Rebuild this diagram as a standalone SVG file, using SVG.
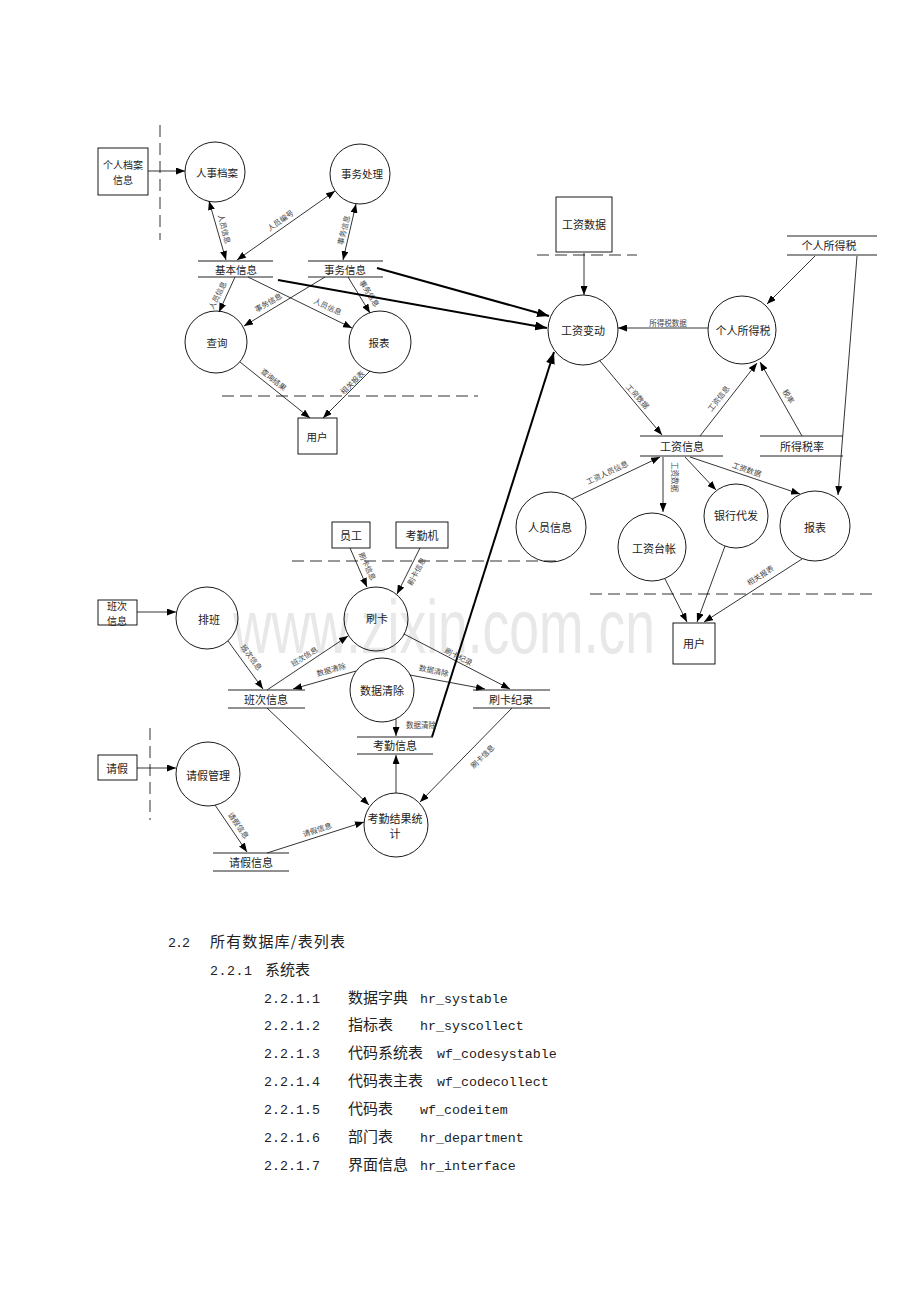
<svg xmlns="http://www.w3.org/2000/svg" width="920" height="1302" viewBox="0 0 920 1302">
<style>
.ln{stroke:#000;stroke-width:0.8;fill:none}
.ar{marker-end:url(#ah)}
.bi{marker-start:url(#ah);marker-end:url(#ah)}
.hv{stroke:#000;stroke-width:2;fill:none;marker-end:url(#ahb)}
.nd{fill:none;stroke:#000;stroke-width:0.9}
.dash{stroke:#333;stroke-width:1;stroke-dasharray:12 6;fill:none}
.stt{stroke:#666;stroke-width:1.3}
.stb{stroke:#222;stroke-width:1}
.t{font-family:"Noto Sans CJK SC","Liberation Serif",sans-serif;font-size:11px;fill:#222;text-anchor:middle;dominant-baseline:central}
.s{font-size:10.5px}
.sm{font-size:10px}
.lb{font-family:"Noto Sans CJK SC",sans-serif;font-size:7.5px;fill:#444;text-anchor:middle;dominant-baseline:central}
.cj{font-family:"Noto Sans CJK SC",sans-serif;font-size:15px;fill:#222}
.mo{font-family:"Liberation Mono",monospace;font-size:13.3px;fill:#222}
.wm{font-family:"Liberation Sans",sans-serif;font-size:54px;fill:#e8e8e8}
</style>
<defs>
<marker id="ah" markerWidth="9" markerHeight="7" refX="9" refY="3.5" orient="auto-start-reverse" markerUnits="userSpaceOnUse"><path d="M0,0 L9,3.5 L0,7 z" fill="#000"/></marker>
<marker id="ahb" markerWidth="12" markerHeight="9" refX="12" refY="4.5" orient="auto" markerUnits="userSpaceOnUse"><path d="M0,0 L12,4.5 L0,9 z" fill="#000"/></marker>
</defs>
<rect width="920" height="1302" fill="#fff"/>
<text class="wm" x="233" y="0" transform="translate(0,653) scale(1,1.42)" textLength="422" lengthAdjust="spacingAndGlyphs">www.zixin.com.cn</text>

<g id="boundaries">
<line class="dash" x1="160" y1="125" x2="160" y2="240"/>
<line class="dash" x1="222" y1="396" x2="478" y2="396"/>
<line class="dash" x1="537" y1="255" x2="637" y2="255"/>
<line class="dash" x1="590" y1="594" x2="875" y2="594"/>
<line class="dash" x1="292" y1="561" x2="558" y2="561"/>
<line class="dash" x1="150" y1="728" x2="150" y2="820"/>
</g>

<g id="connectors">
<line class="ln ar" x1="148" y1="171" x2="185" y2="171"/>
<line class="ln bi" x1="209" y1="201" x2="226" y2="260"/>
<text class="lb" x="225" y="229" transform="rotate(76 225 229)">人员信息</text>
<line class="ln bi" x1="335" y1="191" x2="237" y2="260"/>
<text class="lb" x="280" y="220" transform="rotate(-35 280 220)">人员编号</text>
<line class="ln bi" x1="356" y1="204" x2="343" y2="260"/>
<text class="lb" x="343" y="230" transform="rotate(-76 343 230)">事务信息</text>
<line class="ln ar" x1="235" y1="277" x2="219" y2="312"/>
<text class="lb" x="217" y="295" transform="rotate(-63 217 295)">人员信息</text>
<line class="ln ar" x1="325" y1="277" x2="244" y2="326"/>
<text class="lb" x="268" y="302" transform="rotate(-30 268 302)">事务信息</text>
<line class="ln ar" x1="248" y1="277" x2="352" y2="328"/>
<text class="lb" x="328" y="306" transform="rotate(25 328 306)">人员信息</text>
<line class="ln ar" x1="348" y1="277" x2="370" y2="313"/>
<text class="lb" x="370" y="293" transform="rotate(58 370 293)">事务信息</text>
<line class="ln ar" x1="240" y1="362" x2="310" y2="418"/>
<text class="lb" x="274" y="379" transform="rotate(39 274 379)">查询结果</text>
<line class="ln ar" x1="370" y1="371" x2="323" y2="418"/>
<text class="lb" x="352" y="382" transform="rotate(-45 352 382)">相关报表</text>

<line class="hv" x1="278" y1="280" x2="547" y2="328"/>
<line class="hv" x1="377" y1="268" x2="549" y2="316"/>
<line class="hv" x1="432" y1="737" x2="554" y2="352"/>

<line class="ln ar" x1="584" y1="253" x2="584" y2="295"/>
<line class="ln ar" x1="815" y1="256" x2="767" y2="304"/>
<line class="ln ar" x1="857" y1="256" x2="838" y2="495"/>
<line class="ln ar" x1="708" y1="328" x2="618" y2="328"/>
<text class="lb" x="668" y="322">所得税数据</text>
<line class="ln ar" x1="600" y1="361" x2="662" y2="435"/>
<text class="lb" x="638" y="396" transform="rotate(48 638 396)">工资数据</text>
<line class="ln ar" x1="700" y1="436" x2="757" y2="363"/>
<text class="lb" x="718" y="398" transform="rotate(-52 718 398)">工资信息</text>
<line class="ln ar" x1="802" y1="436" x2="760" y2="362"/>
<text class="lb" x="789" y="396" transform="rotate(60 789 396)">税率</text>
<line class="ln ar" x1="572" y1="499" x2="660" y2="457"/>
<text class="lb" x="607" y="472" transform="rotate(-25 607 472)">工资人员信息</text>
<line class="ln ar" x1="663" y1="457" x2="663" y2="512"/>
<text class="lb" x="675" y="477" transform="rotate(90 675 477)">工资数据</text>
<line class="ln ar" x1="685" y1="457" x2="716" y2="490"/>
<line class="ln ar" x1="690" y1="457" x2="800" y2="494"/>
<text class="lb" x="747" y="469" transform="rotate(19 747 469)">工资数据</text>
<line class="ln ar" x1="665" y1="579" x2="687" y2="622"/>
<line class="ln ar" x1="725" y1="546" x2="697" y2="622"/>
<line class="ln ar" x1="802" y1="559" x2="704" y2="622"/>
<text class="lb" x="760" y="575" transform="rotate(-33 760 575)">相关报表</text>

<line class="ln ar" x1="350" y1="548" x2="367" y2="587"/>
<text class="lb" x="368" y="566" transform="rotate(65 368 566)">刷卡信息</text>
<line class="ln ar" x1="420" y1="548" x2="397" y2="594"/>
<text class="lb" x="416" y="571" transform="rotate(-62 416 571)">刷卡信息</text>
<line class="ln ar" x1="137" y1="612" x2="176" y2="612"/>
<line class="ln ar" x1="228" y1="641" x2="263" y2="689"/>
<text class="lb" x="252" y="657" transform="rotate(54 252 657)">班次信息</text>
<line class="ln ar" x1="267" y1="690" x2="348" y2="636"/>
<text class="lb" x="304" y="656" transform="rotate(-32 304 656)">班次信息</text>
<line class="ln ar" x1="356" y1="671" x2="293" y2="689"/>
<text class="lb" x="331" y="669" transform="rotate(-16 331 669)">数据清除</text>
<line class="ln ar" x1="404" y1="634" x2="510" y2="689"/>
<text class="lb" x="459" y="656" transform="rotate(27 459 656)">刷卡纪录</text>
<line class="ln ar" x1="410" y1="675" x2="485" y2="689"/>
<text class="lb" x="434" y="670" transform="rotate(12 434 670)">数据清除</text>
<line class="ln ar" x1="396" y1="719" x2="396" y2="736"/>
<text class="lb" x="421" y="724">数据清除</text>
<line class="ln ar" x1="396" y1="793" x2="396" y2="755"/>
<line class="ln ar" x1="267" y1="708" x2="369" y2="805"/>
<line class="ln ar" x1="512" y1="708" x2="420" y2="802"/>
<text class="lb" x="482" y="756" transform="rotate(-45 482 756)">刷卡信息</text>
<line class="ln ar" x1="137" y1="768" x2="176" y2="768"/>
<line class="ln ar" x1="215" y1="805" x2="247" y2="852"/>
<text class="lb" x="239" y="825" transform="rotate(55 239 825)">请假信息</text>
<line class="ln ar" x1="267" y1="853" x2="364" y2="822"/>
<text class="lb" x="317" y="829" transform="rotate(-18 317 829)">请假信息</text>
</g>

<g id="n-grda-box"><rect class="nd" x="98" y="148" width="50" height="47"/><text class="t sm" x="123" y="164">个人档案</text><text class="t sm" x="123" y="179">信息</text></g>
<g id="n-rsda"><circle class="nd" cx="215" cy="172" r="30"/><text class="t s" x="217" y="172">人事档案</text></g>
<g id="n-swcl"><circle class="nd" cx="360" cy="174" r="30"/><text class="t s" x="362" y="173">事务处理</text></g>
<g id="s-jbxx"><line class="stt" x1="198" y1="261" x2="273" y2="261"/><line class="stb" x1="198" y1="277" x2="273" y2="277"/><text class="t s" x="236" y="269">基本信息</text></g>
<g id="s-swxx"><line class="stt" x1="308" y1="261" x2="383" y2="261"/><line class="stb" x1="308" y1="277" x2="383" y2="277"/><text class="t s" x="345" y="269">事务信息</text></g>
<g id="n-cx"><circle class="nd" cx="216" cy="342" r="31"/><text class="t s" x="217" y="342">查询</text></g>
<g id="n-bb1"><circle class="nd" cx="380" cy="342" r="31"/><text class="t s" x="379" y="342">报表</text></g>
<g id="n-yh1"><rect class="nd" x="298" y="418" width="39" height="36"/><text class="t s" x="317" y="436">用户</text></g>

<g id="n-gzsj"><rect class="nd" x="556" y="197" width="56" height="55"/><text class="t" x="584" y="224">工资数据</text></g>
<g id="s-grsds"><line class="stb" x1="787" y1="236" x2="877" y2="236"/><line class="stb" x1="787" y1="255" x2="877" y2="255"/><text class="t" x="829" y="245">个人所得税</text></g>
<g id="n-gzbd"><circle class="nd" cx="583" cy="330" r="35"/><text class="t" x="583" y="330">工资变动</text></g>
<g id="n-grsds"><circle class="nd" cx="742" cy="330" r="34"/><text class="t" x="743" y="330">个人所得税</text></g>
<g id="s-gzxx"><line class="stb" x1="640" y1="436" x2="723" y2="436"/><line class="stb" x1="640" y1="456" x2="723" y2="456"/><text class="t" x="682" y="446">工资信息</text></g>
<g id="s-sdsl"><line class="stb" x1="760" y1="436" x2="843" y2="436"/><line class="stb" x1="760" y1="456" x2="843" y2="456"/><text class="t" x="802" y="446">所得税率</text></g>
<g id="n-ryxx"><circle class="nd" cx="551" cy="527" r="35"/><text class="t" x="550" y="527">人员信息</text></g>
<g id="n-gztz"><circle class="nd" cx="652" cy="547" r="34"/><text class="t" x="654" y="548">工资台帐</text></g>
<g id="n-yhdf"><circle class="nd" cx="736" cy="516" r="32"/><text class="t" x="736" y="515">银行代发</text></g>
<g id="n-bb2"><circle class="nd" cx="815" cy="526" r="35"/><text class="t" x="815" y="527">报表</text></g>
<g id="n-yh2"><rect class="nd" x="673" y="623" width="42" height="41"/><text class="t" x="694" y="643">用户</text></g>

<g id="n-yg"><rect class="nd" x="332" y="522" width="38" height="26"/><text class="t" x="351" y="535">员工</text></g>
<g id="n-kqj"><rect class="nd" x="396" y="522" width="52" height="26"/><text class="t" x="422" y="535">考勤机</text></g>
<g id="n-bcxx-box"><rect class="nd" x="98" y="600" width="39" height="25"/><text class="t sm" x="117" y="605">班次</text><text class="t sm" x="117" y="620">信息</text></g>
<g id="n-pb"><circle class="nd" cx="207" cy="618" r="31"/><text class="t" x="209" y="619">排班</text></g>
<g id="n-sk"><circle class="nd" cx="376" cy="619" r="32"/><text class="t" x="377" y="618">刷卡</text></g>
<g id="n-sjqc"><circle class="nd" cx="382" cy="690" r="32"/><text class="t" x="382" y="690">数据清除</text></g>
<g id="s-bcxx"><line class="stb" x1="228" y1="690" x2="305" y2="690"/><line class="stb" x1="228" y1="708" x2="305" y2="708"/><text class="t" x="266" y="699">班次信息</text></g>
<g id="s-skjl"><line class="stb" x1="473" y1="690" x2="550" y2="690"/><line class="stb" x1="473" y1="708" x2="550" y2="708"/><text class="t" x="511" y="699">刷卡纪录</text></g>
<g id="s-kqxx"><line class="stb" x1="357" y1="737" x2="433" y2="737"/><line class="stb" x1="357" y1="754" x2="433" y2="754"/><text class="t" x="395" y="745">考勤信息</text></g>
<g id="n-qj"><rect class="nd" x="98" y="755" width="39" height="25"/><text class="t" x="117" y="768">请假</text></g>
<g id="n-qjgl"><circle class="nd" cx="208" cy="774" r="32"/><text class="t" x="208" y="775">请假管理</text></g>
<g id="s-qjxx"><line class="stb" x1="213" y1="853" x2="289" y2="853"/><line class="stb" x1="213" y1="871" x2="289" y2="871"/><text class="t" x="251" y="862">请假信息</text></g>
<g id="n-kqjgtj"><circle class="nd" cx="396" cy="825" r="32"/><text class="t" x="395" y="818">考勤结果统</text><text class="t" x="395" y="833">计</text></g>

<g id="list">
<text class="mo" x="168" y="947" textLength="22">2.2</text><text class="cj" x="210" y="947" textLength="135">所有数据库/表列表</text>
<text class="mo" x="210" y="975" textLength="42">2.2.1</text><text class="cj" x="265" y="975">系统表</text>
<text class="mo" x="264" y="1003" textLength="56">2.2.1.1</text><text class="cj" x="348" y="1003">数据字典</text><text class="mo" x="420" y="1003">hr_systable</text>
<text class="mo" x="264" y="1030" textLength="56">2.2.1.2</text><text class="cj" x="348" y="1030">指标表</text><text class="mo" x="420" y="1030">hr_syscollect</text>
<text class="mo" x="264" y="1058" textLength="56">2.2.1.3</text><text class="cj" x="348" y="1058">代码系统表</text><text class="mo" x="437" y="1058">wf_codesystable</text>
<text class="mo" x="264" y="1086" textLength="56">2.2.1.4</text><text class="cj" x="348" y="1086">代码表主表</text><text class="mo" x="437" y="1086">wf_codecollect</text>
<text class="mo" x="264" y="1114" textLength="56">2.2.1.5</text><text class="cj" x="348" y="1114">代码表</text><text class="mo" x="420" y="1114">wf_codeitem</text>
<text class="mo" x="264" y="1142" textLength="56">2.2.1.6</text><text class="cj" x="348" y="1142">部门表</text><text class="mo" x="420" y="1142">hr_department</text>
<text class="mo" x="264" y="1170" textLength="56">2.2.1.7</text><text class="cj" x="348" y="1170">界面信息</text><text class="mo" x="420" y="1170">hr_interface</text>
</g>
</svg>
